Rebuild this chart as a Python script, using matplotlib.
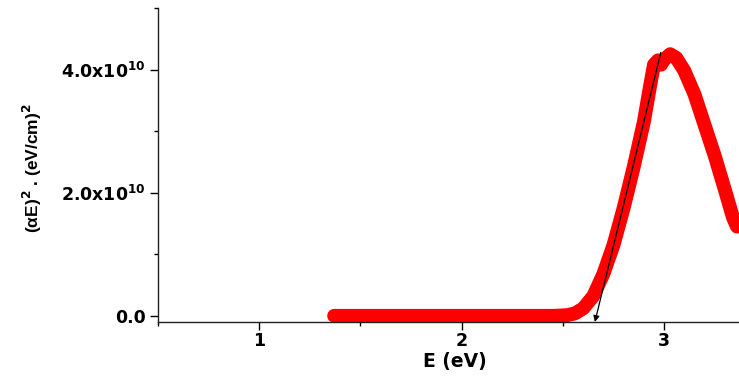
import matplotlib
matplotlib.use("Agg")
import matplotlib.pyplot as plt
from matplotlib.ticker import FixedLocator, MultipleLocator

plt.rcParams['font.family'] = ['DejaVu Sans']
plt.rcParams['font.weight'] = 'bold'
plt.rcParams['mathtext.fontset'] = 'custom'
plt.rcParams['mathtext.rm'] = 'DejaVu Sans:bold'
plt.rcParams['mathtext.bf'] = 'DejaVu Sans:bold'
plt.rcParams['mathtext.it'] = 'DejaVu Sans:bold'
plt.rcParams['mathtext.default'] = 'rm'

# Data (E in eV, (alpha E)^2 in (eV/cm)^2)
energy = [1.37, 1.50, 1.70, 1.90, 2.10, 2.30, 2.45, 2.52, 2.56, 2.60, 2.65, 2.70,
          2.75, 2.80, 2.85, 2.90, 2.93, 2.95, 2.97, 2.985, 3.00, 3.03, 3.06, 3.10,
          3.15, 3.20, 3.25, 3.30, 3.34, 3.36]
alpha_e2 = [0.0, 0.0, 0.0, 0.0, 0.0, 0.0, 0.0, 0.01e10, 0.04e10, 0.12e10, 0.32e10, 0.68e10,
            1.15e10, 1.75e10, 2.42e10, 3.15e10, 3.72e10, 4.08e10, 4.15e10, 4.08e10, 4.16e10, 4.25e10, 4.19e10, 3.98e10,
            3.60e10, 3.10e10, 2.60e10, 2.05e10, 1.60e10, 1.45e10]

# Tangent (Tauc) line: top point and intercept on the E axis
fit_E = [2.984, 2.658]
fit_y = [4.28e10, -0.1e10]

xticks = [1, 2, 3]
yticks = [0.0, 2.0e10, 4.0e10]
ytick_labels = ['0.0', '2.0x10$^{10}$', '4.0x10$^{10}$']

fig = plt.figure(figsize=(7.39, 3.76), dpi=100)
ax = fig.add_axes([158/739, 54/376, 1 - 158/739, (322-8)/376])

ax.plot(energy, alpha_e2, color='#ff0000', lw=10, solid_capstyle='round',
        solid_joinstyle='round', zorder=2)

ax.annotate('', xy=(fit_E[1], fit_y[1]), xytext=(fit_E[0], fit_y[0]),
            arrowprops=dict(arrowstyle='-|>', color='black', lw=0.9,
                            mutation_scale=9, shrinkA=0, shrinkB=0), zorder=3)

ax.set_xlim(0.5, 3.37)
ax.set_ylim(-0.1e10, 5.0e10)

ax.xaxis.set_major_locator(FixedLocator(xticks))
ax.xaxis.set_minor_locator(MultipleLocator(0.5))
ax.yaxis.set_major_locator(FixedLocator(yticks))
ax.yaxis.set_minor_locator(MultipleLocator(1.0e10))
ax.set_yticklabels(ytick_labels)
ax.set_xticklabels([str(t) for t in xticks])

for s in ['top', 'right']:
    ax.spines[s].set_visible(False)
for s in ['left', 'bottom']:
    ax.spines[s].set_linewidth(1.0)
    ax.spines[s].set_color('#222222')

ax.tick_params(axis='both', which='major', direction='out', length=6, width=1,
               labelsize=12.5, pad=3)
ax.tick_params(axis='x', which='major', pad=1.5)
ax.tick_params(axis='both', which='minor', direction='out', length=3, width=1)
for lab in ax.get_xticklabels() + ax.get_yticklabels():
    lab.set_fontweight('bold')

ax.set_xlabel('E (eV)', fontsize=13.5, fontweight='bold')
ax.xaxis.set_label_coords(0.511, -0.097)
ax.set_ylabel('(αE)$^2$ . (eV/cm)$^2$', fontsize=12.5, fontweight='bold',
              family=['Liberation Sans', 'DejaVu Sans'])
ax.yaxis.set_label_coords(-0.197, 0.49)

fig.savefig('out.png', dpi=100)
